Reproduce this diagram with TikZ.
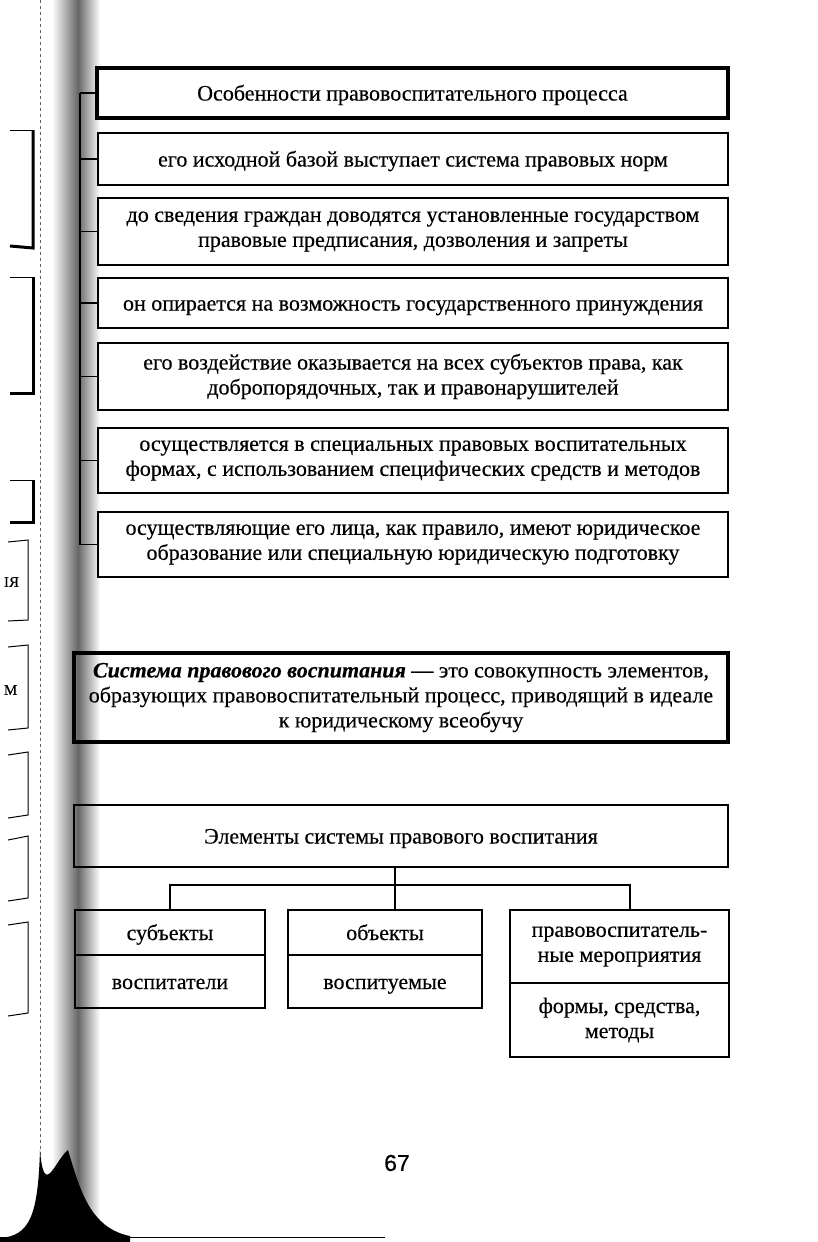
\documentclass[tikz,border=0pt]{standalone}
\usepackage{fontspec}
\setmainfont{Liberation Serif}[FakeBold=0.35]
\newfontfamily\pagenumfont{Liberation Sans}[FakeBold=0.5]
\usetikzlibrary{positioning}
\begin{document}
\begin{tikzpicture}[x=1pt,y=-1pt,
  every node/.style={inner sep=0pt, outer sep=0pt},
  thinbox/.style={draw=black, line width=1.3pt, rectangle, align=center,
    font=\fontsize{22}{25}\selectfont},
  thickbox/.style={draw=black, line width=4.2pt, rectangle, align=center,
    font=\fontsize{22}{25}\selectfont},
  oneline/.style={text height=17pt, text depth=2pt},
  conn/.style={draw=black, line width=1.3pt},
  edgeline/.style={draw=black, line width=1pt},
  edgethick/.style={draw=black, line width=3pt}]
\useasboundingbox (0,0) rectangle (817,1242);
\fill[white] (0,0) rectangle (817,1242);
% binding shadow
\shade[left color=white, right color=black!60] (52,0) rectangle (78,1242);
\shade[left color=black!60, right color=white] (78,0) rectangle (100,1242);
\draw[black!60, line width=0.6pt, dashed] (40,0) -- (40,1230);
\fill[black] (0,1242) -- (0,1238) .. controls (30,1236) and (38,1215) .. (40,1150)
  .. controls (44,1200) and (55,1160) .. (68,1150) .. controls (80,1190) and (90,1228) .. (130,1236)
  -- (130,1242) -- cycle;
\draw[black, line width=0.8pt] (0,1237) -- (385,1237);
% fragments of the previous page
\draw[edgeline] (10,130) -- (33,130);
\draw[edgethick] (33,130) -- (33,248) -- (10,246);
\draw[edgeline] (10,277) -- (33,277);
\draw[edgethick] (33,277) -- (33,393) -- (10,393);
\draw[edgeline] (10,480) -- (33,480);
\draw[edgethick] (33,480) -- (33,522) -- (10,522);
\draw[edgeline] (8,542) -- (28,540) -- (28,620) -- (8,621);
\node[font=\fontsize{15}{18}\selectfont, anchor=west] (fragA) at (4,582) {ІЯ};
\draw[edgeline] (8,647) -- (28,645) -- (28,728) -- (8,730);
\node[font=\fontsize{15}{18}\selectfont, anchor=west] (fragB) at (4,690) {М};
\draw[edgeline] (8,755) -- (28,752) -- (28,815) -- (8,818);
\draw[edgeline] (8,840) -- (28,836) -- (28,898) -- (8,901);
\draw[edgeline] (8,925) -- (28,922) -- (28,1013) -- (8,1016);

% top block
\coordinate (sp) at (80,0);
\node[thickbox, oneline, anchor=north west, minimum width=631, minimum height=50] (title) at (97,68) {Особенности правовоспитательного процесса};
\node[thinbox, oneline, anchor=north west, minimum width=630, minimum height=52] (b1) at (98,133) {его исходной базой выступает система правовых норм};
\node[thinbox, anchor=north west, minimum width=630, minimum height=67] (b2) at (98,198) {до сведения граждан доводятся установленные государством\\правовые предписания, дозволения и запреты};
\node[thinbox, oneline, anchor=north west, minimum width=630, minimum height=50] (b3) at (98,278) {он опирается на возможность государственного принуждения};
\node[thinbox, anchor=north west, minimum width=630, minimum height=67] (b4) at (98,343) {его воздействие оказывается на всех субъектов права, как\\добропорядочных, так и правонарушителей};
\node[thinbox, anchor=north west, minimum width=630, minimum height=65] (b5) at (98,428) {осуществляется в специальных правовых воспитательных\\формах, с использованием специфических средств и методов};
\node[thinbox, anchor=north west, minimum width=630, minimum height=65] (b6) at (98,512) {осуществляющие его лица, как правило, имеют юридическое\\образование или специальную юридическую подготовку};
\draw[conn] (title.west -| sp) -- (b6.west -| sp);
\foreach \n in {title,b1,b2,b3,b4,b5,b6} {\draw[conn] (\n.west) -- (\n.west -| sp);}

% definition
\node[thickbox, anchor=north west, minimum width=654, minimum height=89] (def) at (74,653)
  {\textbf{\textit{Система правового воспитания}} — это совокупность элементов,\\образующих правовоспитательный процесс, приводящий в идеале\\к юридическому всеобучу};

% elements
\node[thinbox, oneline, anchor=north west, minimum width=654, minimum height=62] (el) at (74,805) {Элементы системы правового воспитания};
\node[thinbox, oneline, anchor=north west, minimum width=190, minimum height=45] (sut) at (75,910) {субъекты};
\node[thinbox, oneline, anchor=north west, minimum width=190, minimum height=53] (sub) at (75,955) {воспитатели};
\node[thinbox, oneline, anchor=north west, minimum width=194, minimum height=45] (obt) at (288,910) {объекты};
\node[thinbox, oneline, anchor=north west, minimum width=194, minimum height=53] (obb) at (288,955) {воспитуемые};
\node[thinbox, anchor=north west, minimum width=219, minimum height=73] (met) at (510,910) {правовоспитатель-\\ные мероприятия};
\node[thinbox, anchor=north west, minimum width=219, minimum height=74] (meb) at (510,983) {формы, средства,\\методы};
\coordinate (jv) at (395,0);
\coordinate (jh) at (0,885);
\coordinate (jr) at (630,0);
\draw[conn] (el.south -| jv) -- (obt.north -| jv);
\draw[conn] (sut.north) -- (sut.north |- jh) -- (jh -| jr) -- (met.north -| jr);

% page number
\node[font=\pagenumfont\fontsize{23}{26}\selectfont] (pnum) at (397,1163) {67};
\end{tikzpicture}
\end{document}
